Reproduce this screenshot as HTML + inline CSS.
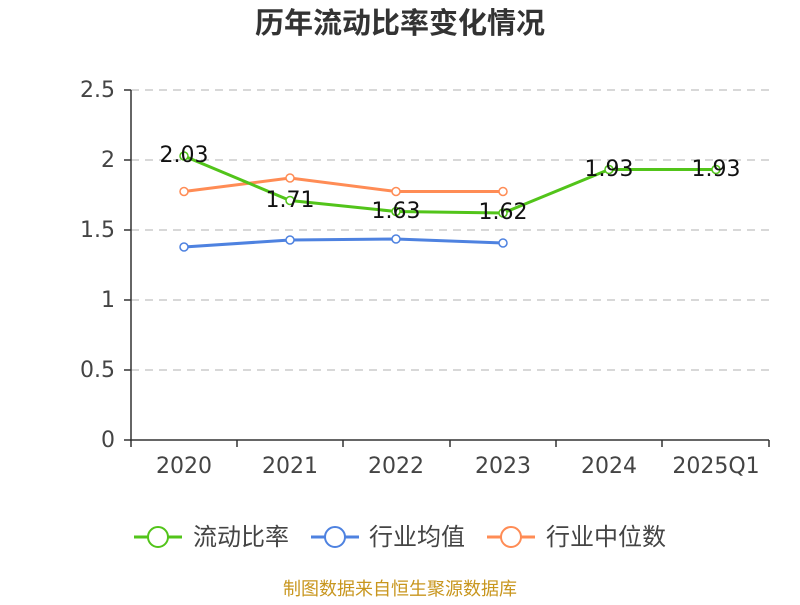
<!DOCTYPE html>
<html><head><meta charset="utf-8"><style>
body{margin:0;background:#fff;width:800px;height:600px;overflow:hidden}
svg text{font-family:"DejaVu Sans","Noto Sans CJK SC",sans-serif}
.c{font-family:"Noto Sans CJK SC",sans-serif !important}
</style></head><body>
<svg width="800" height="600" viewBox="0 0 800 600">
<text class="c" x="400" y="33" text-anchor="middle" font-size="29" font-weight="bold" fill="#333">历年流动比率变化情况</text>
<g stroke="#ccc" stroke-dasharray="8,6" stroke-width="1.5">
<line x1="131" x2="769" y1="90" y2="90"/><line x1="131" x2="769" y1="160" y2="160"/>
<line x1="131" x2="769" y1="230" y2="230"/><line x1="131" x2="769" y1="300" y2="300"/>
<line x1="131" x2="769" y1="370" y2="370"/>
</g>
<g stroke="#333" stroke-width="1.5">
<line x1="131" x2="131" y1="90" y2="441"/><line x1="130" x2="769" y1="440" y2="440"/>
<line x1="124" x2="131" y1="90" y2="90"/><line x1="124" x2="131" y1="160" y2="160"/><line x1="124" x2="131" y1="230" y2="230"/><line x1="124" x2="131" y1="300" y2="300"/><line x1="124" x2="131" y1="370" y2="370"/><line x1="124" x2="131" y1="440" y2="440"/>
<line x1="131" x2="131" y1="440" y2="447"/><line x1="237" x2="237" y1="440" y2="447"/><line x1="343" x2="343" y1="440" y2="447"/><line x1="450" x2="450" y1="440" y2="447"/><line x1="556" x2="556" y1="440" y2="447"/><line x1="662" x2="662" y1="440" y2="447"/><line x1="769" x2="769" y1="440" y2="447"/>
</g>
<g font-size="22" fill="#444" text-anchor="end">
<text x="115" y="97">2.5</text><text x="115" y="167">2</text><text x="115" y="237">1.5</text><text x="115" y="307">1</text><text x="115" y="377">0.5</text><text x="115" y="447">0</text>
</g>
<g font-size="22" fill="#444" text-anchor="middle">
<text x="184" y="473">2020</text><text x="290" y="473">2021</text><text x="396" y="473">2022</text><text x="503" y="473">2023</text><text x="609" y="473">2024</text><text x="716" y="473">2025Q1</text>
</g>
<g fill="#fff" stroke-width="1.5">
<polyline fill="none" stroke="#4e82e0" stroke-width="3" points="184,247 290,240 396,239 503,243"/>
<circle cx="184" cy="247" r="4" stroke="#4e82e0"/><circle cx="290" cy="240" r="4" stroke="#4e82e0"/><circle cx="396" cy="239" r="4" stroke="#4e82e0"/><circle cx="503" cy="243" r="4" stroke="#4e82e0"/>
<polyline fill="none" stroke="#ff8c55" stroke-width="3" points="184,191.5 290,178 396,191.5 503,191.5"/>
<circle cx="184" cy="191.5" r="4" stroke="#ff8c55"/><circle cx="290" cy="178" r="4" stroke="#ff8c55"/><circle cx="396" cy="191.5" r="4" stroke="#ff8c55"/><circle cx="503" cy="191.5" r="4" stroke="#ff8c55"/>
<polyline fill="none" stroke="#52c41a" stroke-width="3" points="184,156 290,200.5 396,211.5 503,213 609,169.5 716,169.5"/>
<circle cx="184" cy="156" r="4" stroke="#52c41a"/><circle cx="290" cy="200.5" r="4" stroke="#52c41a"/><circle cx="396" cy="211.5" r="4" stroke="#52c41a"/><circle cx="503" cy="213" r="4" stroke="#52c41a"/><circle cx="609" cy="169.5" r="4" stroke="#52c41a"/><circle cx="716" cy="169.5" r="4" stroke="#52c41a"/>
</g>
<g font-size="22" fill="#111" text-anchor="middle">
<text x="184" y="162">2.03</text><text x="290" y="207">1.71</text><text x="396" y="218">1.63</text><text x="503" y="219">1.62</text><text x="609" y="176">1.93</text><text x="716" y="176">1.93</text>
</g>
<g stroke-width="3" fill="#fff">
<line x1="134" x2="182" y1="537" y2="537" stroke="#52c41a"/><circle cx="158" cy="537" r="10" stroke="#52c41a" stroke-width="2"/>
<line x1="311" x2="359" y1="537" y2="537" stroke="#4e82e0"/><circle cx="335" cy="537" r="10" stroke="#4e82e0" stroke-width="2"/>
<line x1="487" x2="535" y1="537" y2="537" stroke="#ff8c55"/><circle cx="511" cy="537" r="10" stroke="#ff8c55" stroke-width="2"/>
</g>
<g class="c" font-size="24" fill="#444">
<text class="c" x="193" y="545">流动比率</text><text class="c" x="369" y="545">行业均值</text><text class="c" x="546" y="545">行业中位数</text>
</g>
<text class="c" x="400" y="595" text-anchor="middle" font-size="18" fill="#c8961e">制图数据来自恒生聚源数据库</text>
</svg>
</body></html>
